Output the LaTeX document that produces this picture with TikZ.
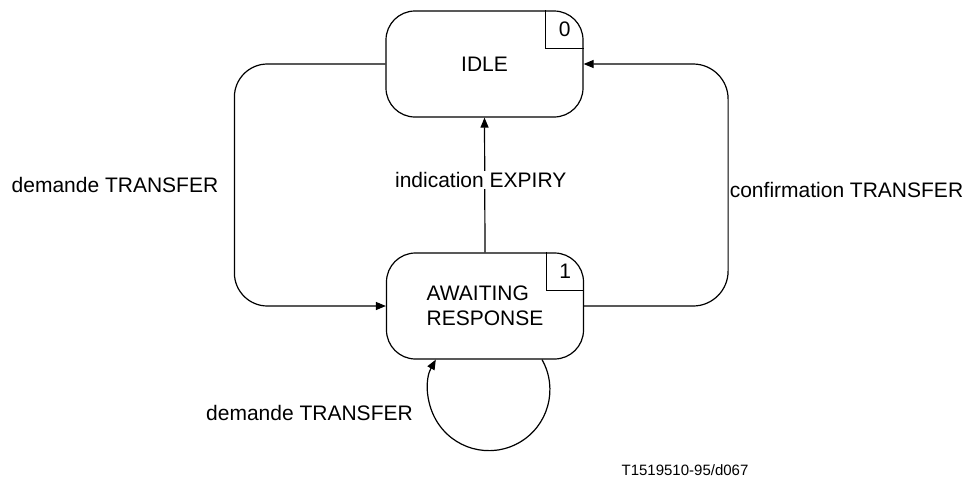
\documentclass[tikz,border=0pt]{standalone}
\usepackage{fontspec}
\setmainfont{Liberation Sans}
\usetikzlibrary{arrows.meta, positioning, calc}

\begin{document}
\begin{tikzpicture}[
    x=1pt, y=-1pt,
    state/.style={draw, rounded corners=29pt, minimum width=197pt,
                  minimum height=106pt, line width=1.2pt, inner sep=0pt},
    arr/.style={-{Triangle[length=10pt, width=8pt]}, line width=1.2pt},
    lbl/.style={font=\fontsize{21}{24.5}\selectfont},
    reflbl/.style={font=\fontsize{15}{18}\selectfont}
  ]
  \useasboundingbox (0,0) rectangle (971,480);

  % States
  \node[state, lbl] (idle) at (484.5,64) {IDLE};
  \node[state, lbl, align=left] (await) at (485,306) {AWAITING\\RESPONSE};

  % State numbers
  \draw[line width=1.2pt] ([xshift=-38pt]idle.north east) |- ([yshift=-38pt]idle.north east);
  \node[lbl] (idlenum) at ([xshift=-19pt, yshift=-19pt]idle.north east) {0};
  \draw[line width=1.2pt] ([xshift=-38pt]await.north east) |- ([yshift=-38pt]await.north east);
  \node[lbl] (awaitnum) at ([xshift=-19pt, yshift=-19pt]await.north east) {1};

  % Transitions
  \draw[arr, rounded corners=33pt] (idle.west) -- ++(-151,0) |- (await.west);
  \draw[arr, rounded corners=35pt] (await.east) -- ++(144,0) |- (idle.east);
  \draw[arr] (await.north) -- node[lbl, fill=white, inner sep=1pt, pos=0.537, xshift=-4pt] (lblexpiry) {indication EXPIRY} (idle.south);

  % Self loop
  \coordinate (loopout) at ([xshift=57pt]await.south);
  \draw[arr] (loopout) arc[start angle=29.5, end angle=-209.5, radius=61pt];

  % Labels
  \node[lbl] (lbldemande) at (115,185) {demande TRANSFER};
  \node[lbl] (lblconfirm) at (846.5,190) {confirmation TRANSFER};
  \node[lbl] (lblloop) at (309.5,413) {demande TRANSFER};
  \node[reflbl] (figref) at (685,470) {T1519510-95/d067};

\end{tikzpicture}
\end{document}
